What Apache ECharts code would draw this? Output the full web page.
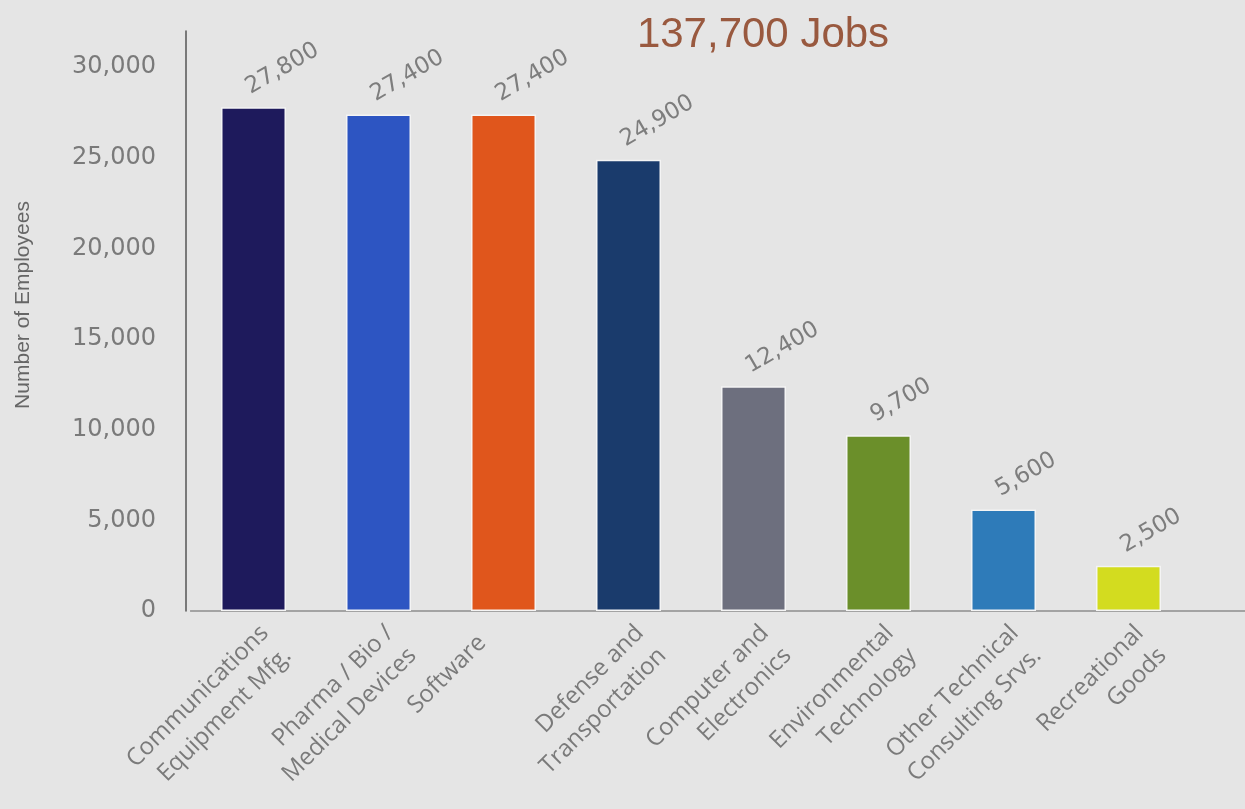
<!DOCTYPE html>
<html>
<head>
<meta charset="utf-8">
<title>Employment by Industry</title>
<script src="https://cdn.jsdelivr.net/npm/echarts@6/dist/echarts.min.js"></script>
<style>
  html, body { margin: 0; padding: 0; background: #e5e5e5; }
  #chart { width: 1245px; height: 809px; }
</style>
</head>
<body>
<div id="chart"></div>
<script>
// Industry categories (two-line labels)
const categories = [
  'Communications\nEquipment Mfg.',
  'Pharma / Bio /\nMedical Devices',
  'Software',
  'Defense and\nTransportation',
  'Computer and\nElectronics',
  'Environmental\nTechnology',
  'Other Technical\nConsulting Srvs.',
  'Recreational\nGoods'
];

// Number of employees per industry
const employees = [27800, 27400, 27400, 24900, 12400, 9700, 5600, 2500];

// One fill colour per industry
const barColors = ['#1e1a5c', '#2d55c2', '#e0561c', '#1a3b6c', '#6d6f7e', '#6b8f2a', '#2e7bb9', '#d3dc1f'];

const totalJobs = '137,700 Jobs';
const yAxisTitle = 'Number of Employees';

const chart = echarts.init(document.getElementById('chart'), null, { renderer: 'canvas' });

const fmt = v => v.toLocaleString('en-US');

// Single-line names sit a little further back along the slant than two-line ones
const categoryData = categories.map(name => (
  name.indexOf('\n') < 0
    ? { value: name, textStyle: { verticalAlign: 'middle', padding: [0, 30, 0, 0] } }
    : { value: name }
));

chart.setOption({
  backgroundColor: '#e5e5e5',
  animation: false,
  title: {
    text: totalJobs,
    left: 758,
    top: 9,
    textAlign: 'center',
    textStyle: {
      color: '#99593f',
      fontFamily: 'Liberation Sans',
      fontWeight: 'normal',
      fontSize: 42
    }
  },
  grid: [
    { left: 191, right: 54, top: 31, bottom: 198 },
    // baseline running out to the right edge
    { left: 191, right: 0, top: 31, bottom: 198 }
  ],
  xAxis: [{
    type: 'category',
    gridIndex: 0,
    data: categoryData,
    axisTick: { show: false },
    axisLine: { lineStyle: { color: '#a3a3a3', width: 2 } },
    axisLabel: {
      interval: 0,
      rotate: 45,
      margin: 7,
      align: 'right',
      verticalAlign: 'top',
      color: '#7a7a7a',
      fontFamily: 'Open Sans',
      fontSize: 24,
      lineHeight: 32
    }
  }, {
    type: 'value',
    gridIndex: 1,
    axisLine: { show: true, lineStyle: { color: '#a3a3a3', width: 2 } },
    axisTick: { show: false },
    axisLabel: { show: false },
    splitLine: { show: false }
  }],
  yAxis: [{
    type: 'value',
    gridIndex: 0,
    min: 0,
    max: 32000,
    interval: 5000,
    offset: 5,
    name: yAxisTitle,
    nameLocation: 'middle',
    nameGap: 152,
    nameTextStyle: { color: '#666666', fontFamily: 'Liberation Sans Narrow, Liberation Sans', fontSize: 21, padding: [0, 0, 0, 32] },
    splitLine: { show: false },
    axisTick: { show: false },
    axisLine: { show: true, lineStyle: { color: '#555555', width: 1.5 } },
    axisLabel: {
      showMaxLabel: false,
      margin: 30,
      color: '#7a7a7a',
      fontFamily: 'DejaVu Sans',
      fontSize: 24,
      formatter: v => (v % 5000 === 0 ? fmt(v) : '')
    }
  }, {
    type: 'value',
    gridIndex: 1,
    show: false
  }],
  series: [{
    type: 'bar',
    xAxisIndex: 0,
    yAxisIndex: 0,
    data: employees.map((v, i) => ({ value: v, itemStyle: { color: barColors[i] } })),
    barWidth: 65,
    itemStyle: { borderColor: '#f4f4f4', borderWidth: 1.5 },
    label: {
      show: true,
      position: 'top',
      distance: 12,
      rotate: 30,
      align: 'left',
      verticalAlign: 'bottom',
      offset: [-2, 3],
      color: '#7d7d7d',
      fontFamily: 'DejaVu Sans',
      fontSize: 23,
      formatter: p => fmt(p.value)
    }
  }]
});
</script>
</body>
</html>
